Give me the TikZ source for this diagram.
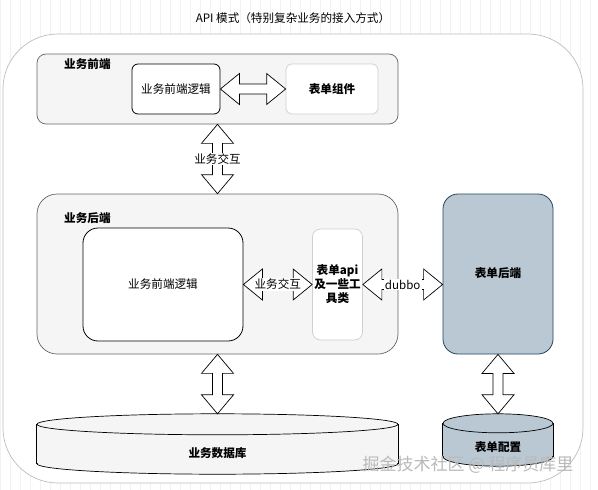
\documentclass[tikz,border=0pt]{standalone}
\usepackage{fontspec}
\setmainfont{Noto Sans CJK SC}
\usepackage{tikz}
\usetikzlibrary{calc,positioning}
\definecolor{bgfill}{HTML}{F5F5F5}
\definecolor{bgline}{HTML}{666666}
\definecolor{frameline}{HTML}{BDBDBD}
\definecolor{softline}{HTML}{CFCFCF}
\definecolor{steelfill}{HTML}{BAC8D3}
\definecolor{steelline}{HTML}{23445D}
\definecolor{gridline}{HTML}{F2F2F2}
\tikzset{
  txt/.style={font=\fontsize{11.6}{14}\selectfont,align=center,inner sep=0pt},
  grp/.style={draw=bgline,fill=bgfill,line width=0.7pt},
  box/.style={txt,draw=black,fill=white,line width=0.8pt,rounded corners=6pt},
  soft/.style={txt,draw=softline,fill=white,line width=0.7pt,rounded corners=6pt,font=\fontsize{11.6}{14}\selectfont\bfseries},
  steel/.style={txt,draw=steelline,fill=steelfill,line width=0.8pt,font=\fontsize{11.6}{14}\selectfont\bfseries},
  ghost/.style={txt,minimum width=#1},
  flex/.style={draw=black,fill=white,line width=0.7pt,line join=miter},
  lbl/.style={txt,fill=white,inner sep=1pt},
}
% hollow double arrows between two anchors
\newcommand{\hflex}[2]{\draw[flex] (#1) -- ++(19,-15.5) -- ++(0,10.5) -- ($(#2)+(-19,-5)$)
  -- ++(0,-10.5) -- (#2) -- ++(-19,15.5) -- ++(0,-10.5) -- ($(#1)+(19,5)$) -- ++(0,10.5) -- cycle;}
\newcommand{\vflex}[2]{\draw[flex] (#1) -- ++(-16,19) -- ++(11,0) -- ($(#2)+(-5,-19)$)
  -- ++(-11,0) -- (#2) -- ++(16,-19) -- ++(-11,0) -- ($(#1)+(5,19)$) -- ++(11,0) -- cycle;}
% cylinder drawn over a placeholder node
\newcommand{\cyl}[4]{%
  \fill[#4] ($(#1.north west)+(0,#2)$) rectangle ($(#1.south east)+(0,-#2)$);
  \fill[#4] ($(#1.south)+(0,-#2)$) ellipse[x radius=#3,y radius=#2];
  \begin{scope}
    \clip ($(#1.south west)+(-2,-#2)$) rectangle ($(#1.south east)+(2,2)$);
    \draw[line width=0.7pt] ($(#1.south)+(0,-#2)$) ellipse[x radius=#3,y radius=#2];
  \end{scope}
  \draw[line width=0.7pt] ($(#1.north west)+(0,#2)$) -- ($(#1.south west)+(0,-#2)$);
  \draw[line width=0.7pt] ($(#1.north east)+(0,#2)$) -- ($(#1.south east)+(0,-#2)$);
  \draw[line width=0.7pt,fill=#4] ($(#1.north)+(0,#2)$) ellipse[x radius=#3,y radius=#2];
}

\begin{document}
\begin{tikzpicture}[x=1pt,y=-1pt]
  \useasboundingbox (0,0) rectangle (598,490);
  \fill[white] (0,0) rectangle (598,490);
  \draw[gridline,step=10] (0,0) grid (598,490);

  \node[txt] (title) at (293,18) {API 模式（特别复杂业务的接入方式）};
  \node[draw=frameline,fill=white,line width=0.7pt,rounded corners=55pt,
    minimum width=580,minimum height=449] (frame) at (293,258.5) {};

  % 业务前端
  \node[grp,rounded corners=9pt,minimum width=361,minimum height=70] (fe) at (217.5,89) {};
  \node[txt,font=\fontsize{11.6}{14}\selectfont\bfseries,anchor=west] (feLbl) at (64,64) {业务前端};
  \node[box,minimum width=88,minimum height=50] (feLogic) at (176,89) {业务前端逻辑};
  \node[soft,minimum width=92,minimum height=50] (formComp) at (332,89) {表单组件};
  \hflex{feLogic.east}{formComp.west}

  % 业务后端
  \node[grp,rounded corners=20pt,minimum width=361,minimum height=160] (be) at (217.5,274) {};
  \node[txt,font=\fontsize{11.6}{14}\selectfont\bfseries,anchor=west] (beLbl) at (64,218) {业务后端};
  \node[box,rounded corners=15pt,minimum width=160,minimum height=113] (beLogic) at (163,284.5) {业务前端逻辑};
  \node[soft,rounded corners=8pt,minimum width=50,minimum height=111] (formApi) at (337.5,284.5) {表单api\\及一些工\\具类};
  \node[steel,rounded corners=15pt,minimum width=110,minimum height=160] (formBe) at (498,274) {};
  \node[txt,font=\fontsize{11.6}{14}\selectfont\bfseries] (formBeLbl) at (498,273) {表单后端};

  \vflex{fe.south}{be.north}
  \node[lbl] (ia) at ($(fe.south)!0.5!(be.north)$) {业务交互};
  \hflex{beLogic.east}{formApi.west}
  \node[lbl] (ib) at ($(beLogic.east)!0.5!(formApi.west)$) {业务交互};
  \hflex{formApi.east}{formApi.east -| formBe.west}
  \node[lbl] (rpc) at ($(formApi.east)!0.5!(formApi.east -| formBe.west)$) {dubbo};

  % 数据库
  \node[ghost=361,minimum height=60] (bizDb) at (217.5,444) {};
  \cyl{bizDb}{10.5}{180.5}{bgfill}
  \node[txt,font=\fontsize{11.6}{14}\selectfont\bfseries] (bizDbLbl) at (217.5,453) {业务数据库};
  \node[ghost=110,minimum height=52] (cfgDb) at (498,440) {};
  \cyl{cfgDb}{9.5}{55}{steelfill}
  \node[txt,font=\fontsize{11.6}{14}\selectfont\bfseries] (cfgDbLbl) at (498,447) {表单配置};

  \vflex{be.south}{bizDb.north}
  \vflex{formBe.south}{cfgDb.north}

  \node[txt,font=\fontsize{17}{20}\selectfont,text=gray!55] (mark) at (468,465) {掘金技术社区 @ 程序员库里};
\end{tikzpicture}
\end{document}
